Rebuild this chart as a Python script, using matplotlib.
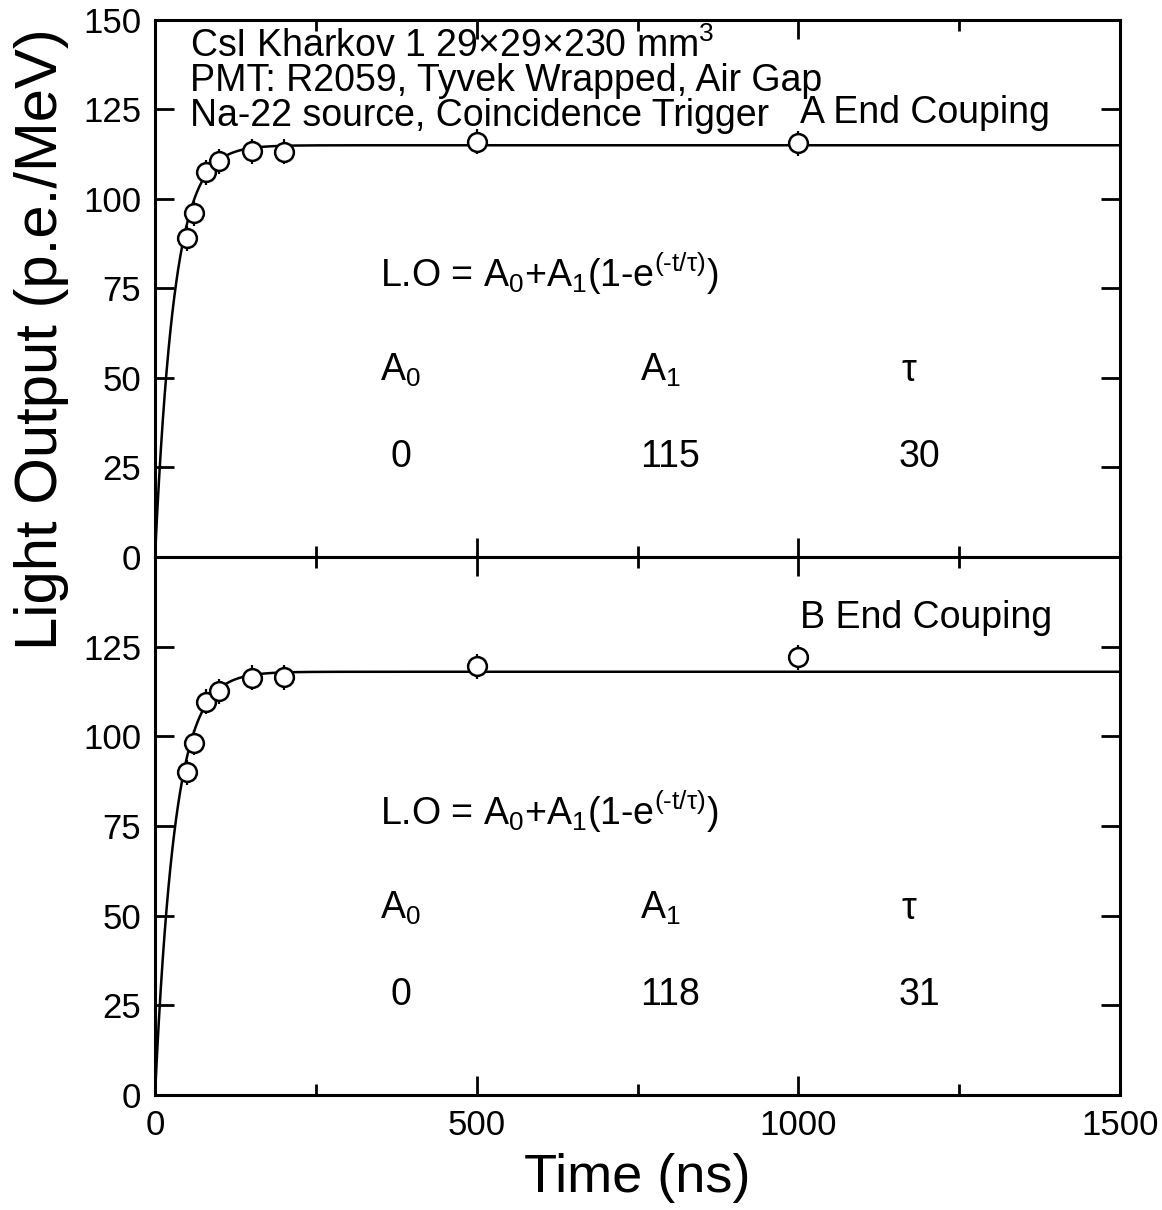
import matplotlib.pyplot as plt
import numpy as np

plt.rcParams['font.family'] = ['Liberation Sans', 'DejaVu Sans']
plt.rcParams['mathtext.fontset'] = 'custom'
plt.rcParams['mathtext.rm'] = 'Liberation Sans'
plt.rcParams['mathtext.default'] = 'regular'

# measured points (time in ns, light output in p.e./MeV)
t_a = np.array([50, 60, 80, 100, 150, 200, 500, 1000])
lo_a = np.array([89.0, 96.0, 107.5, 110.5, 113.3, 113.2, 116.0, 115.5])
t_b = np.array([50, 60, 80, 100, 150, 200, 500, 1000])
lo_b = np.array([90.0, 98.2, 109.7, 112.5, 116.3, 116.5, 119.5, 122.0])
err = 3.5

# fit parameters A0, A1, tau
fit_a = (0, 115, 30)
fit_b = (0, 118, 31)

fig = plt.figure(figsize=(11.62, 12.10), dpi=100)
ax1 = fig.add_axes([0.1334, 0.5397, 0.8305, 0.4438])
ax2 = fig.add_axes([0.1334, 0.0950, 0.8305, 0.4447])

tt = np.linspace(0, 1500, 1500)


def panel(ax, t, lo, fit, label, label_y, yticks):
    a0, a1, tau = fit
    ax.plot(tt, a0 + a1 * (1 - np.exp(-tt / tau)), color='black', lw=1.8)
    ax.errorbar(t, lo, yerr=err, fmt='o', mfc='white', mec='black', ms=13.5,
                mew=1.8, ecolor='black', elinewidth=1.6, capsize=0, zorder=3)
    ax.set_xlim(0, 1500)
    ax.set_ylim(0, 150)
    ax.set_xticks([0, 500, 1000, 1500])
    ax.set_xticks([250, 750, 1250], minor=True)
    ax.set_yticks(yticks)
    ax.tick_params(which='both', direction='in', top=True, right=True,
                   labelsize=25, width=2)
    ax.tick_params(which='major', length=14, pad=10)
    ax.tick_params(which='minor', length=8)
    for s in ax.spines.values():
        s.set_linewidth(2.2)
    fs = 27
    ax.text(1003, label_y, label, fontsize=fs, va='center', ha='left')
    ax.text(350, 79, 'L.O = A$_0$+A$_1$(1-e$^{(\u2010t/τ)}$)', fontsize=fs,
            va='center', ha='left')
    ax.text(350, 52, 'A$_0$', fontsize=fs, va='center', ha='left')
    ax.text(754, 52, 'A$_1$', fontsize=fs, va='center', ha='left')
    ax.text(1160, 52, 'τ', fontsize=fs, va='center', ha='left')
    ax.text(382, 28, str(a0), fontsize=fs, va='center', ha='center')
    ax.text(800, 28, str(a1), fontsize=fs, va='center', ha='center')
    ax.text(1188, 28, str(tau), fontsize=fs, va='center', ha='center')


panel(ax1, t_a, lo_a, fit_a, 'A End Couping', 124, [0, 25, 50, 75, 100, 125, 150])
panel(ax2, t_b, lo_b, fit_b, 'B End Couping', 133, [0, 25, 50, 75, 100, 125])
ax1.tick_params(labelbottom=False)

ax1.text(55, 148, 'CsI Kharkov 1 29×29×230 mm$^3$\nPMT: R2059, Tyvek Wrapped, Air Gap\nNa-22 source, Coincidence Trigger',
         fontsize=27, va='top', ha='left', linespacing=0.95)

ax2.set_xlabel('Time (ns)', fontsize=39, labelpad=8)
fig.text(0.036, 0.72, 'Light Output (p.e./MeV)', fontsize=43, rotation=90,
         va='center', ha='center')

fig.savefig('out.png', dpi=100)
